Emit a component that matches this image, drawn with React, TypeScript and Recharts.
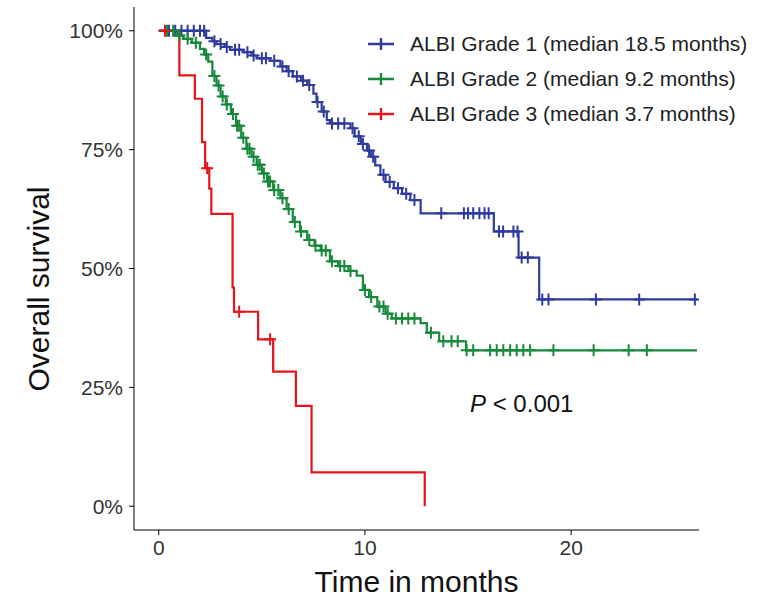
import React from "react";
import {
  ComposedChart,
  Line,
  Scatter,
  XAxis,
  YAxis,
  Legend,
} from "recharts";

// Kaplan-Meier steps (months, survival)
const g1Time = [0, 2.3, 2.6, 2.8, 3.2, 3.45, 4.1, 4.5, 4.75, 5.4, 5.9, 6.2, 6.5, 6.9, 7.2, 7.5, 7.65, 7.9, 8.15, 8.3, 9.3, 9.5, 9.8, 10.1, 10.3, 10.5, 10.75, 11.0, 11.4, 11.8, 12.2, 12.7, 16.25, 17.45, 18.45, 26.1];
const g1Surv = [1, 0.985, 0.978, 0.972, 0.966, 0.96, 0.955, 0.948, 0.942, 0.937, 0.925, 0.915, 0.904, 0.895, 0.886, 0.868, 0.85, 0.83, 0.812, 0.805, 0.795, 0.778, 0.762, 0.748, 0.735, 0.717, 0.697, 0.682, 0.669, 0.657, 0.644, 0.616, 0.578, 0.523, 0.435, 0.435];

const g2Time = [0, 0.9, 1.2, 1.6, 2.0, 2.2, 2.4, 2.6, 2.8, 3.0, 3.25, 3.5, 3.75, 4.0, 4.25, 4.5, 4.75, 5.0, 5.25, 5.55, 5.9, 6.2, 6.5, 6.85, 7.2, 7.55, 7.85, 8.3, 8.7, 9.2, 9.6, 9.9, 10.2, 10.6, 11.0, 11.3, 12.7, 13.0, 13.6, 14.9, 26.1];
const g2Surv = [1, 0.99, 0.983, 0.975, 0.962, 0.95, 0.935, 0.905, 0.885, 0.862, 0.845, 0.825, 0.8, 0.775, 0.752, 0.735, 0.718, 0.7, 0.683, 0.665, 0.648, 0.625, 0.598, 0.578, 0.56, 0.548, 0.538, 0.515, 0.505, 0.495, 0.485, 0.455, 0.44, 0.42, 0.405, 0.395, 0.385, 0.365, 0.347, 0.328, 0.328];

const g3Time = [0, 1.0, 1.75, 2.1, 2.25, 2.45, 2.55, 3.58, 3.65, 4.82, 5.55, 6.65, 7.41, 12.9];
const g3Surv = [1, 0.906, 0.857, 0.766, 0.711, 0.668, 0.615, 0.46, 0.409, 0.351, 0.283, 0.211, 0.071, 0];

// censored observations ("+" marks)
const g1CensorTime = [0.5, 0.8, 1.1, 1.4, 1.7, 2.0, 2.2, 2.7, 3.0, 3.3, 3.7, 3.9, 4.3, 4.6, 5.0, 5.2, 5.6, 6.0, 6.3, 6.7, 7.0, 7.3, 7.7, 8.0, 8.4, 8.7, 9.0, 9.4, 9.7, 9.9, 10.2, 10.4, 10.9, 11.2, 11.6, 12.0, 12.4, 13.7, 14.8, 15.0, 15.25, 15.55, 15.8, 16.0, 16.5, 16.7, 17.2, 17.4, 17.6, 17.9, 18.6, 18.9, 21.2, 23.3, 26.0];
const g1CensorSurv = [1, 1, 1, 1, 1, 1, 1, 0.978, 0.972, 0.966, 0.96, 0.96, 0.955, 0.948, 0.942, 0.942, 0.937, 0.925, 0.915, 0.904, 0.895, 0.886, 0.85, 0.83, 0.805, 0.805, 0.805, 0.795, 0.778, 0.762, 0.748, 0.735, 0.697, 0.682, 0.669, 0.657, 0.644, 0.616, 0.616, 0.616, 0.616, 0.616, 0.616, 0.616, 0.578, 0.578, 0.578, 0.578, 0.523, 0.523, 0.435, 0.435, 0.435, 0.435, 0.435];

const g2CensorTime = [0.4, 0.7, 1.0, 1.4, 1.8, 2.3, 2.7, 2.9, 3.1, 3.3, 3.6, 3.8, 3.9, 4.1, 4.3, 4.4, 4.6, 4.8, 4.9, 5.1, 5.3, 5.4, 5.6, 5.8, 6.0, 6.3, 6.6, 6.9, 7.3, 7.6, 7.9, 8.1, 8.4, 8.8, 9.0, 9.3, 10.0, 10.3, 10.7, 10.9, 11.1, 11.5, 11.8, 12.1, 12.4, 13.2, 13.8, 14.2, 14.5, 14.93, 15.25, 16.07, 16.39, 16.71, 17.04, 17.36, 17.68, 18.01, 19.14, 21.09, 22.79, 23.67];
const g2CensorSurv = [1, 1, 0.99, 0.983, 0.975, 0.95, 0.905, 0.885, 0.862, 0.845, 0.825, 0.8, 0.8, 0.775, 0.752, 0.752, 0.735, 0.718, 0.718, 0.7, 0.683, 0.683, 0.665, 0.665, 0.648, 0.625, 0.598, 0.578, 0.56, 0.548, 0.538, 0.538, 0.515, 0.505, 0.505, 0.495, 0.455, 0.44, 0.42, 0.42, 0.405, 0.395, 0.395, 0.395, 0.395, 0.365, 0.347, 0.347, 0.347, 0.328, 0.328, 0.328, 0.328, 0.328, 0.328, 0.328, 0.328, 0.328, 0.328, 0.328, 0.328, 0.328];

const g3CensorTime = [0.3, 2.35, 3.9, 5.4];
const g3CensorSurv = [1, 0.711, 0.409, 0.351];

const yTicks = [0, 0.25, 0.5, 0.75, 1];
const xTicks = [0, 10, 20];

const groups = [
  { name: "ALBI Grade 1 (median 18.5 months)", color: "#2f3c9e" },
  { name: "ALBI Grade 2 (median 9.2 months)", color: "#17893b" },
  { name: "ALBI Grade 3 (median 3.7 months)", color: "#e3141b" },
];

const toRows = (t: number[], s: number[]) => t.map((v, i) => ({ t: v, s: s[i] }));

const curves = [toRows(g1Time, g1Surv), toRows(g2Time, g2Surv), toRows(g3Time, g3Surv)];
const censors = [
  toRows(g1CensorTime, g1CensorSurv),
  toRows(g2CensorTime, g2CensorSurv),
  toRows(g3CensorTime, g3CensorSurv),
];

const FONT = "'Liberation Sans', Arial, sans-serif";

function Cross(props: any) {
  const { cx, cy, fill } = props;
  if (cx == null || cy == null) return null;
  return (
    <path
      d={`M${cx - 6},${cy}h12M${cx},${cy - 6}v12`}
      stroke={fill}
      strokeWidth={2}
      fill="none"
    />
  );
}

function KMLegend() {
  return (
    <div style={{ fontFamily: FONT, fontSize: 21, color: "#222" }}>
      {groups.map((g) => (
        <div key={g.name} style={{ display: "flex", alignItems: "center", height: 35 }}>
          <svg width={38} height={16} style={{ marginRight: 6 }}>
            <path d="M2,8h26M15,2v12" stroke={g.color} strokeWidth={2.4} />
          </svg>
          <span>{g.name}</span>
        </div>
      ))}
    </div>
  );
}

const YTitle = () => (
  <text
    transform="translate(38,289) rotate(-90)"
    textAnchor="middle"
    dominantBaseline="central"
    fontSize={30}
    fill="#111"
  >
    Overall survival
  </text>
);

export default function App() {
  return (
    <div style={{ position: "absolute", left: 0, top: 0, width: 774, height: 604, background: "#fff" }}>
      <ComposedChart
        width={774}
        height={604}
        margin={{ top: 7, right: 75, bottom: 10, left: 0 }}
        style={{ fontFamily: FONT }}
      >
        <XAxis
          dataKey="t"
          type="number"
          domain={[-1.2, 26.2]}
          ticks={xTicks}
          allowDataOverflow
          height={64}
          tickSize={5}
          stroke="#000"
          tick={{ fill: "#333", fontSize: 21, dy: 3 }}
          label={{
            value: "Time in months",
            position: "insideBottom",
            offset: 2,
            style: { fill: "#111", fontSize: 30, textAnchor: "middle" },
          }}
        />
        <YAxis
          dataKey="s"
          type="number"
          domain={[-0.05, 1.05]}
          ticks={yTicks}
          allowDataOverflow
          width={134}
          tickSize={5}
          stroke="#000"
          tickFormatter={(v: number) => `${Math.round(v * 100)}%`}
          tick={{ fill: "#333", fontSize: 21, dx: -4 }}
          label={<YTitle />}
        />
        <Legend
          layout="horizontal"
          verticalAlign="middle"
          align="center"
          content={<KMLegend />}
          wrapperStyle={{ top: 26, left: 366, width: 408 }}
        />
        {groups.map((g, i) => (
          <Line
            key={g.name}
            data={curves[i]}
            dataKey="s"
            type="stepAfter"
            stroke={g.color}
            strokeWidth={2.2}
            dot={false}
            isAnimationActive={false}
            legendType="none"
          />
        ))}
        {groups.map((g, i) => (
          <Scatter
            key={g.name + "-c"}
            data={censors[i]}
            dataKey="s"
            fill={g.color}
            shape={<Cross />}
            isAnimationActive={false}
            legendType="none"
          />
        ))}
      </ComposedChart>
      <div
        style={{
          position: "absolute",
          left: 470,
          top: 390,
          fontFamily: FONT,
          fontSize: 24,
          color: "#111",
        }}
      >
        <i>P</i> &lt; 0.001
      </div>
    </div>
  );
}
